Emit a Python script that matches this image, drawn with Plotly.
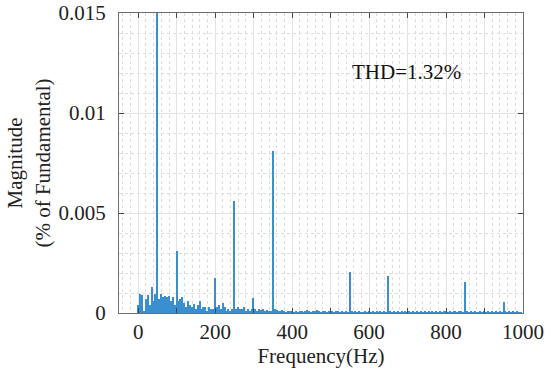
import plotly.graph_objects as go

# Harmonic spectrum, 5 Hz resolution (Hz)
freq = list(range(0, 1005, 5))

# magnitudes (% of fundamental)
mag_0_200 = [
    0.0004, 0.00095, 0.0009, 0.0001, 0.0007, 0.0009, 0.0004, 0.0013, 0.0006, 0.00095,
    0.5, 0.0007, 0.00095, 0.0008, 0.00085, 0.0008, 0.00085, 0.0006, 0.0008, 0.0004,
    0.0031, 0.0006, 0.0007, 0.0008, 0.0005, 0.0003, 0.0006, 0.0004, 0.0003, 0.00045,
    0.0002, 0.0004, 0.0006, 0.0002, 0.0003, 0.0003, 0.0001, 0.0003, 0.0002, 0.0002,
]
mag_200_400 = [
    0.00175, 0.0003, 0.0004, 0.0002, 0.0005, 0.0003, 0.0001, 0.0002, 0.0001, 0.0002,
    0.0056, 0.0002, 0.0003, 0.0002, 0.0002, 0.0003, 0.0001, 0.0002, 0.0001, 0.0002,
    0.00075, 0.0002, 0.0001, 0.0002, 0.00015, 0.0002, 0.0001, 0.00015, 0.0001, 0.0001,
    0.0081, 0.0002, 0.00015, 0.0001, 0.0001, 0.00015, 0.0001, 0.00005, 0.0001, 0.0001,
]
mag_400_600 = [
    0.0001, 0.00005, 0.0001, 0.00005, 0.0001, 0.0001, 0.00005, 0.0001, 0.00015, 0.0001,
    0.00005, 0.0001, 0.0001, 0.00015, 0.0001, 0.00005, 0.0001, 0.0001, 0.00005, 0.0001,
    0.00005, 0.0001, 0.00005, 0.0001, 0.0001, 0.00005, 0.0001, 0.00005, 0.0001, 0.00005,
    0.00205, 0.0001, 0.00005, 0.0001, 0.00005, 0.0001, 0.00005, 0.00005, 0.0001, 0.00005,
]
mag_600_800 = [
    0.0001, 0.00005, 0.0001, 0.00005, 0.0001, 0.00005, 0.0001, 0.00005, 0.0001, 0.00005,
    0.00185, 0.0001, 0.00005, 0.0001, 0.00005, 0.0001, 0.00005, 0.0001, 0.00005, 0.0001,
    0.00005, 0.0001, 0.00005, 0.0001, 0.00005, 0.0001, 0.00005, 0.0001, 0.00005, 0.0001,
    0.00005, 0.0001, 0.00005, 0.0001, 0.00005, 0.0001, 0.00005, 0.0001, 0.00005, 0.0001,
]
mag_800_1000 = [
    0.0001, 0.00005, 0.0001, 0.00005, 0.0001, 0.0001, 0.00005, 0.0001, 0.0001, 0.00005,
    0.00155, 0.0001, 0.00005, 0.0001, 0.00005, 0.0001, 0.00005, 0.00005, 0.0001, 0.00005,
    0.0001, 0.00005, 0.0001, 0.00005, 0.0001, 0.00005, 0.0001, 0.00005, 0.0001, 0.00005,
    0.00055, 0.0001, 0.00005, 0.0001, 0.00005, 0.0001, 0.00005, 0.0001, 0.00005, 0.00005,
    0.0,
]
mag = mag_0_200 + mag_200_400 + mag_400_600 + mag_600_800 + mag_800_1000

x_tickvals = [0, 100, 200, 300, 400, 500, 600, 700, 800, 900, 1000]
x_ticktext = ["0", "", "200", "", "400", "", "600", "", "800", "", "1000"]
y_tickvals = [0, 0.005, 0.01, 0.015]
y_ticktext = ["0", "0.005", "0.01", "0.015"]

font_family = "Liberation Serif"
bar_color = "#3a8fd0"
fs = 21

fig = go.Figure()
fig.add_trace(go.Bar(x=freq, y=mag, width=3.6,
                     marker=dict(color=bar_color, line=dict(width=0))))

axis_common = dict(
    showline=True, linecolor="#6e6e6e", linewidth=1.2, mirror="ticks",
    ticks="inside", ticklen=5, tickcolor="#444444",
    showgrid=True, gridcolor="#e3e3e3", gridwidth=1,
    zeroline=False, automargin=False, ticklabeloverflow="allow",
    tickfont=dict(family=font_family, size=fs, color="#222222"),
)

fig.update_layout(
    width=550, height=371,
    margin=dict(l=119, r=27, t=13, b=58),
    paper_bgcolor="white", plot_bgcolor="white",
    showlegend=False, bargap=0,
    font=dict(family=font_family, color="#222222"),
    xaxis=dict(
        axis_common, range=[-50, 1000],
        tickmode="array", tickvals=x_tickvals, ticktext=x_ticktext,
        ticklabelstandoff=0,
        minor=dict(dtick=20, tick0=0, showgrid=True, gridcolor="#dcdcdc", griddash="dot", ticks=""),
        title=dict(text="Frequency(Hz)", font=dict(family=font_family, size=fs, color="#222222"), standoff=3),
    ),
    yaxis=dict(
        axis_common, range=[0, 0.015],
        tickmode="array", tickvals=y_tickvals, ticktext=y_ticktext,
        ticklabelstandoff=8,
        minor=dict(dtick=0.001, tick0=0, showgrid=True, gridcolor="#dcdcdc", griddash="dot", ticks=""),
        title=dict(text="Magnitude<br>(% of Fundamental)", font=dict(family=font_family, size=fs, color="#222222"), standoff=2),
    ),
)

fig.add_annotation(x=696, y=0.01205, xref="x", yref="y", text="THD=1.32%", showarrow=False,
                   font=dict(family=font_family, size=fs, color="#111111"))

fig.write_html("out.html", config={"displayModeBar": False},
               post_script="document.body.style.margin='0';document.body.style.padding='0';")
